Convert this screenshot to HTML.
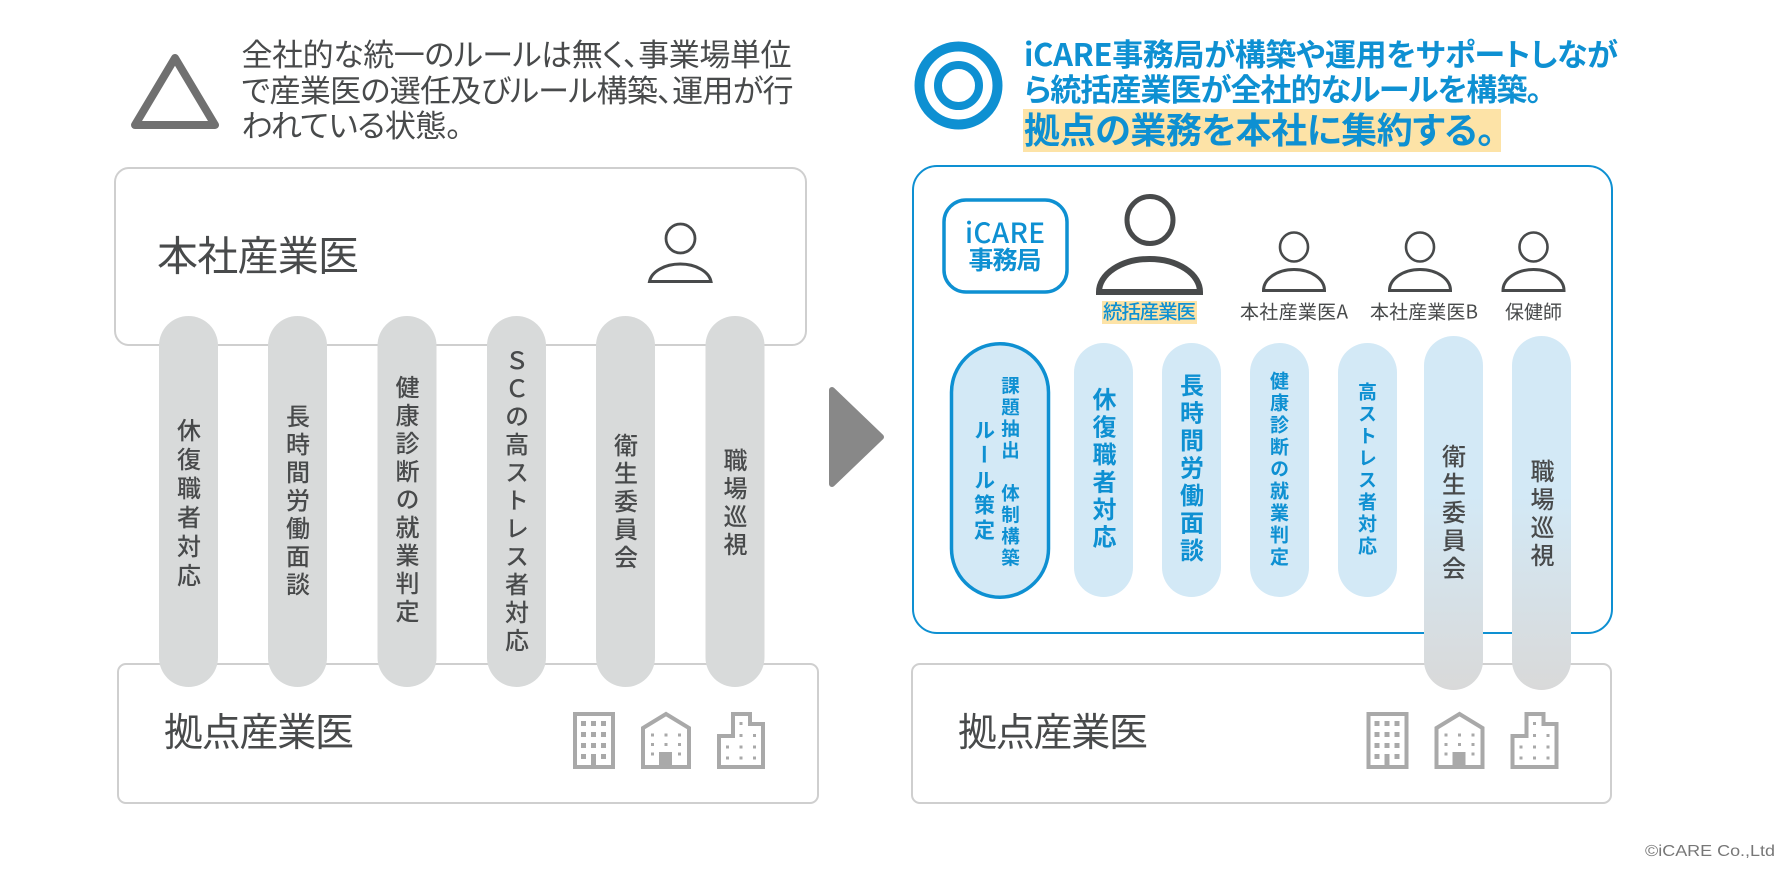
<!DOCTYPE html>
<html lang="ja">
<head>
<meta charset="utf-8">
<style>
html,body{margin:0;padding:0;background:#fff}
#p{position:relative;width:1788px;height:871px;overflow:hidden;background:#fff;font-family:"Noto Sans CJK JP",sans-serif}
svg{position:absolute;left:0;top:0}
svg text{font-family:"Noto Sans CJK JP",sans-serif;font-feature-settings:"palt"}
.v{position:absolute;writing-mode:vertical-rl;text-orientation:upright;line-height:1;white-space:pre;font-family:"Noto Sans CJK JP",sans-serif}
.g{color:#484a4b;font-size:24px;letter-spacing:4.5px;font-weight:500}
.b{color:#0e90d2;font-weight:700}
</style>
</head>
<body>
<div id="p">
<svg width="1788" height="871" viewBox="0 0 1788 871">
<defs>
<linearGradient id="gr" x1="0" y1="0" x2="0" y2="1">
<stop offset="0" stop-color="#d3e9f6"/><stop offset="0.45" stop-color="#d3e9f6"/><stop offset="1" stop-color="#d9d9d9"/>
</linearGradient>
<g id="icons" fill="#a9a9a9">
<rect x="575" y="714" width="38" height="53" fill="#fff" stroke="#a9a9a9" stroke-width="4"/>
<rect x="581" y="721" width="5" height="5"/><rect x="591" y="721" width="5" height="5"/><rect x="601" y="721" width="5" height="5"/>
<rect x="581" y="732" width="5" height="5"/><rect x="591" y="732" width="5" height="5"/><rect x="601" y="732" width="5" height="5"/>
<rect x="581" y="743" width="5" height="5"/><rect x="591" y="743" width="5" height="5"/><rect x="601" y="743" width="5" height="5"/>
<rect x="581" y="754" width="5" height="5"/><rect x="591" y="754" width="5" height="15"/><rect x="601" y="754" width="5" height="5"/>
<polygon points="643,767 643,728 666,714 689,728 689,767" fill="#fff" stroke="#a9a9a9" stroke-width="4"/>
<rect x="659" y="752" width="13" height="17"/>
<rect x="651" y="733.500" width="3" height="3"/><rect x="664.500" y="733.500" width="3" height="3"/><rect x="678" y="733.500" width="3" height="3"/>
<rect x="651" y="743" width="3" height="3"/><rect x="664.500" y="743" width="3" height="3"/><rect x="678" y="743" width="3" height="3"/>
<rect x="651" y="752.500" width="3" height="3"/><rect x="678" y="752.500" width="3" height="3"/>
<polygon points="719,767 719,736 733,736 733,714 750,714 750,724 763,724 763,767" fill="#fff" stroke="#a9a9a9" stroke-width="4"/>
<rect x="739.500" y="722" width="3" height="3"/>
<rect x="739.500" y="734" width="3" height="3"/><rect x="753" y="734" width="3" height="3"/>
<rect x="726" y="745.500" width="3" height="3"/><rect x="739.500" y="745.500" width="3" height="3"/><rect x="753" y="745.500" width="3" height="3"/>
<rect x="726" y="756.500" width="3" height="3"/><rect x="739.500" y="756.500" width="3" height="3"/><rect x="753" y="756.500" width="3" height="3"/>
</g>
</defs>

<!-- Left panel -->
<polygon points="175,58 215,125 135,125" fill="none" stroke="#707070" stroke-width="8" stroke-linejoin="round"/>
<g fill="#484a4b" font-size="31">
<text x="241.500" y="66" textLength="550">全社的な統一のルールは無く、事業場単位</text>
<text x="241.500" y="102" textLength="552">で産業医の選任及びルール構築、運用が行</text>
<text x="241.500" y="137" textLength="220">われている状態。</text>
</g>
<rect x="115" y="168" width="691" height="177" rx="14" fill="#fff" stroke="#cfcfcf" stroke-width="2"/>
<text x="157" y="270.500" font-size="41" fill="#484a4b" textLength="202">本社産業医</text>
<ellipse cx="680.500" cy="238.500" rx="14.500" ry="14.500" fill="none" stroke="#484a4b" stroke-width="2.800"/>
<path d="M649.500 281.500A31 20 0 0 1 711 281.500Z" fill="none" stroke="#484a4b" stroke-width="3"/>

<rect x="118" y="664" width="700" height="139" rx="8" fill="#fff" stroke="#cfcfcf" stroke-width="2"/>
<text x="164" y="746" font-size="39" fill="#484a4b" textLength="190">拠点産業医</text>
<use href="#icons"/>

<g fill="#d8dada">
<rect x="159" y="316" width="59" height="371" rx="29.500"/>
<rect x="268" y="316" width="59" height="371" rx="29.500"/>
<rect x="377.500" y="316" width="59" height="371" rx="29.500"/>
<rect x="487" y="316" width="59" height="371" rx="29.500"/>
<rect x="596" y="316" width="59" height="371" rx="29.500"/>
<rect x="705.500" y="316" width="59" height="371" rx="29.500"/>
</g>

<!-- Arrow -->
<polygon points="832,390 881,437 832,484" fill="#888" stroke="#888" stroke-width="6" stroke-linejoin="round"/>

<!-- Right panel -->
<circle cx="958.500" cy="85.500" r="39" fill="none" stroke="#0e90d2" stroke-width="10"/>
<circle cx="958.500" cy="85.500" r="20.500" fill="none" stroke="#0e90d2" stroke-width="8"/>
<rect x="1023" y="109" width="478" height="43" fill="#fde3a7"/>
<g fill="#0e90d2" font-weight="700">
<text x="1024" y="66" font-size="31" textLength="594">iCARE事務局が構築や運用をサポートしなが</text>
<text x="1024" y="101" font-size="31" textLength="518">ら統括産業医が全社的なルールを構築。</text>
<text x="1024" y="143" font-size="36" textLength="471">拠点の業務を本社に集約する。</text>
</g>
<rect x="913" y="166" width="699" height="467" rx="24" fill="#fff" stroke="#0e90d2" stroke-width="2"/>
<rect x="944" y="200" width="123" height="92" rx="22" fill="#fff" stroke="#0e90d2" stroke-width="3.500"/>
<text x="965" y="243" font-size="28" font-weight="500" fill="#0e90d2" textLength="80">iCARE</text>
<text x="968.500" y="269" font-size="25" font-weight="700" fill="#0e90d2" textLength="73">事務局</text>

<ellipse cx="1150" cy="220" rx="23" ry="23.500" fill="none" stroke="#484a4b" stroke-width="5"/>
<path d="M1099 292A50.500 33 0 0 1 1200 292Z" fill="none" stroke="#484a4b" stroke-width="6"/>
<rect x="1102" y="301" width="95" height="23" fill="#fde3a7"/>
<text x="1103" y="318.500" font-size="19.500" font-weight="500" fill="#0e90d2" textLength="93">統括産業医</text>

<g fill="none" stroke="#484a4b">
<ellipse cx="1294" cy="247" rx="14" ry="14.500" stroke-width="2.600"/>
<path d="M1263.500 290.500A30.500 21 0 0 1 1324.500 290.500Z" stroke-width="3"/>
<ellipse cx="1420" cy="247" rx="14" ry="14.500" stroke-width="2.600"/>
<path d="M1389.500 290.500A30.500 21 0 0 1 1450.500 290.500Z" stroke-width="3"/>
<ellipse cx="1533.500" cy="247" rx="14" ry="14.500" stroke-width="2.600"/>
<path d="M1503 290.500A30.500 21 0 0 1 1564 290.500Z" stroke-width="3"/>
</g>
<g fill="#484a4b" font-size="19">
<text x="1240" y="318.500" textLength="108">本社産業医A</text>
<text x="1370" y="318.500" textLength="108">本社産業医B</text>
<text x="1505" y="318.500" textLength="57">保健師</text>
</g>

<rect x="951.500" y="343.750" width="97" height="253.500" rx="48.500" fill="#d3e9f6" stroke="#0e90d2" stroke-width="3.500"/>
<g fill="#d3e9f6">
<rect x="1074" y="343" width="59" height="254" rx="29.500"/>
<rect x="1162" y="343" width="59" height="254" rx="29.500"/>
<rect x="1250" y="343" width="59" height="254" rx="29.500"/>
<rect x="1338" y="343" width="59" height="254" rx="29.500"/>
</g>

<rect x="912" y="664" width="699" height="139" rx="8" fill="#fff" stroke="#cfcfcf" stroke-width="2"/>
<text x="958" y="746" font-size="39" fill="#484a4b" textLength="190">拠点産業医</text>
<use href="#icons" transform="translate(793.500 0)"/>

<rect x="1424" y="336" width="59" height="354" rx="29.500" fill="url(#gr)"/>
<rect x="1512" y="336" width="59" height="354" rx="29.500" fill="url(#gr)"/>

<text x="1645" y="856" font-size="16" fill="#777" textLength="130" lengthAdjust="spacingAndGlyphs" style="font-family:'Liberation Sans',sans-serif">©iCARE Co.,Ltd</text>
</svg>

<!-- left vertical labels -->
<div class="v g" style="left:176.500px;top:418px;letter-spacing:5px">休復職者対応</div>
<div class="v g" style="left:285.500px;top:404px;letter-spacing:4px">長時間労働面談</div>
<div class="v g" style="left:395px;top:375px;letter-spacing:4px">健康診断の就業判定</div>
<div class="v g" style="left:504.500px;top:348px;letter-spacing:4px">ＳＣの高ストレス者対応</div>
<div class="v g" style="left:613.500px;top:433px;letter-spacing:4px">衛生委員会</div>
<div class="v g" style="left:723px;top:448px;letter-spacing:4px">職場巡視</div>

<!-- right vertical labels -->
<div class="v b" style="left:1092px;top:387px;font-size:24px;letter-spacing:3.500px">休復職者対応</div>
<div class="v b" style="left:1179.500px;top:373px;font-size:24px;letter-spacing:3.500px">長時間労働面談</div>
<div class="v b" style="left:1270px;top:371px;font-size:19px;letter-spacing:3px">健康診断の就業判定</div>
<div class="v b" style="left:1358px;top:382px;font-size:19px;letter-spacing:3px">高ストレス者対応</div>
<div class="v b" style="left:1001px;top:376px;font-size:18.500px;letter-spacing:3px">課題抽出 体制構築</div>
<div class="v b" style="left:973.500px;top:419px;font-size:21px;letter-spacing:4px">ルール策定</div>
<div class="v g" style="left:1441.500px;top:444px;letter-spacing:4px">衛生委員会</div>
<div class="v g" style="left:1530px;top:459px;letter-spacing:4px">職場巡視</div>
</div>
</body>
</html>
